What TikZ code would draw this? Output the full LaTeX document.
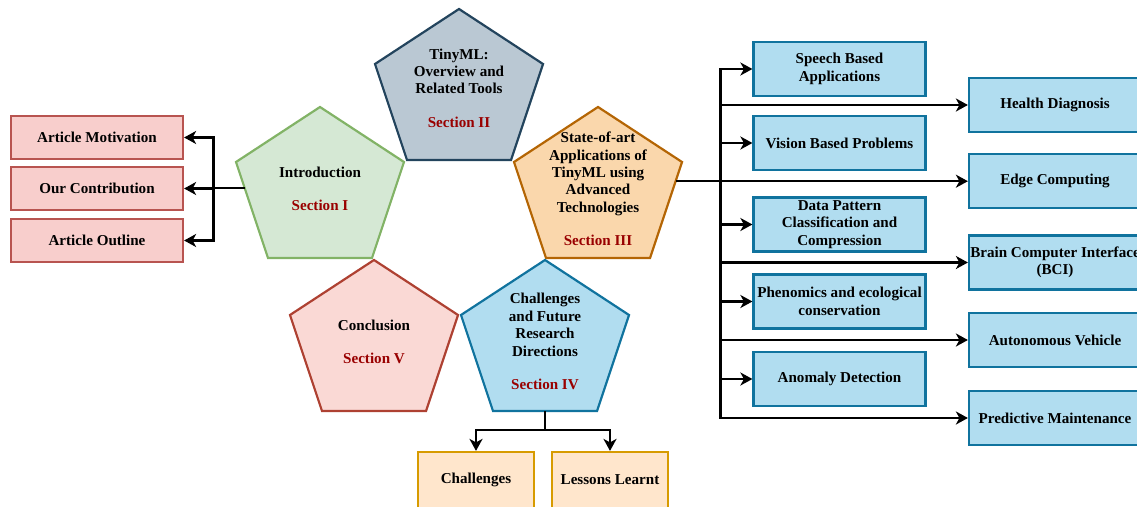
\documentclass[tikz,border=0pt]{standalone}
\usepackage{fontspec}
\setmainfont{Liberation Serif}
\usetikzlibrary{arrows.meta,calc}
\definecolor{secred}{HTML}{990000}
\definecolor{rfill}{HTML}{F8CECC}\definecolor{rdraw}{HTML}{B85450}
\definecolor{bfill}{HTML}{B1DDF0}\definecolor{bdraw}{HTML}{10739E}
\definecolor{yfill}{HTML}{FFE6CC}\definecolor{ydraw}{HTML}{D79B00}
\definecolor{gfill}{HTML}{D5E8D4}\definecolor{gdraw}{HTML}{82B366}
\definecolor{sfill}{HTML}{BAC8D3}\definecolor{sdraw}{HTML}{23445D}
\definecolor{ofill}{HTML}{FAD7AC}\definecolor{odraw}{HTML}{B46504}
\definecolor{pfill}{HTML}{FAD9D5}\definecolor{pdraw}{HTML}{AE4132}
\newcommand\mypent[4]{%
  \draw[penta,#4] (#2,#3) coordinate (#1-t) -- ++(84,55) coordinate (#1-r)
    -- ++(-32,96) coordinate (#1-br) -- ++(-104,0) coordinate (#1-bl)
    -- ++(-32,-96) coordinate (#1-l) -- cycle;}
\begin{document}
\begin{tikzpicture}[x=1pt,y=-1pt,
  txt/.style={font=\fontsize{15.1}{17.4}\selectfont\bfseries, align=center, inner sep=0pt},
  box/.style={txt, draw, line width=2.2pt, minimum width=172pt, minimum height=54pt},
  redbox/.style={box, fill=rfill, draw=rdraw, minimum height=43pt},
  bluebox/.style={box, fill=bfill, draw=bdraw},
  ylwbox/.style={box, fill=yfill, draw=ydraw, minimum width=116pt, minimum height=56pt},
  penta/.style={line width=2.2pt, line join=miter},
  conn/.style={line width=2.3pt, black},
  arr/.style={conn, -{Stealth[length=12pt,width=13pt,inset=3.5pt]}}]
\useasboundingbox (0,0) rectangle (1137,506);
\clip (0,0) rectangle (1137,506);
% pentagons
\mypent{introP}{320}{107}{fill=gfill, draw=gdraw}
\mypent{toolsP}{459}{9}{fill=sfill, draw=sdraw}
\mypent{appP}{598}{107}{fill=ofill, draw=odraw}
\mypent{conclP}{374}{260}{fill=pfill, draw=pdraw}
\mypent{futP}{545}{260}{fill=bfill, draw=bdraw}
\node[txt] (intro) at (320,189) {Introduction\\[16pt]\textcolor{secred}{Section I}};
\node[txt] (tools) at (459,88) {TinyML:\\Overview and\\Related Tools\\[16pt]\textcolor{secred}{Section II}};
\node[txt] (apps) at (598,189) {State-of-art\\Applications of\\TinyML using\\Advanced\\Technologies\\[16pt]\textcolor{secred}{Section III}};
\node[txt] (concl) at (374,342) {Conclusion\\[16pt]\textcolor{secred}{Section V}};
\node[txt] (fut) at (545,341.5) {Challenges\\and Future\\Research\\Directions\\[16pt]\textcolor{secred}{Section IV}};
% left boxes
\node[redbox] (mot) at (97,137.5) {Article Motivation};
\node[redbox] (contrib) at (97,188.5) {Our Contribution};
\node[redbox] (outline) at (97,240.5) {Article Outline};
% right boxes
\node[bluebox] (speech) at (839.5,69) {Speech Based\\Applications};
\node[bluebox] (vision) at (839.5,143) {Vision Based Problems};
\node[bluebox] (data) at (839.5,224.5) {Data Pattern\\Classification and\\Compression};
\node[bluebox] (pheno) at (839.5,301.5) {Phenomics and ecological\\conservation};
\node[bluebox] (anom) at (839.5,379) {Anomaly Detection};
\node[bluebox] (health) at (1055,105) {Health Diagnosis};
\node[bluebox] (edge) at (1055,181) {Edge Computing};
\node[bluebox] (bci) at (1055,262.5) {Brain Computer Interface\\(BCI)};
\node[bluebox] (auto) at (1055,340) {Autonomous Vehicle};
\node[bluebox] (pred) at (1055,418) {Predictive Maintenance};
% bottom boxes
\node[ylwbox] (chal) at (476,480) {Challenges};
\node[ylwbox] (less) at (610,480) {Lessons Learnt};
% left connectors
\coordinate (introOut) at ($(introP-l)!0.27!(introP-bl)$);
\coordinate (lhub) at ($(introOut)+(-31,0)$);
\draw[conn] (introOut) -- (lhub);
\draw[arr] (lhub) |- (mot.east);
\draw[arr] (lhub) |- (contrib.east);
\draw[arr] (lhub) |- (outline.east);
% right connectors
\coordinate (appOut) at ($(appP-r)!0.2!(appP-br)$);
\coordinate (rhub) at ($(appOut)+(45,0)$);
\draw[arr] (appOut) -- (appOut -| edge.west);
\foreach \t in {speech,vision,data,pheno,anom,health,bci,auto,pred}
  \draw[arr] (rhub) |- (\t.west);
% bottom connectors
\coordinate (futB) at ($(futP-bl)!0.5!(futP-br)$);
\coordinate (bhub) at ($(futB)+(0,19)$);
\draw[conn] (futB) -- (bhub);
\draw[arr] (bhub) -| (chal.north);
\draw[arr] (bhub) -| (less.north);
\end{tikzpicture}
\end{document}
